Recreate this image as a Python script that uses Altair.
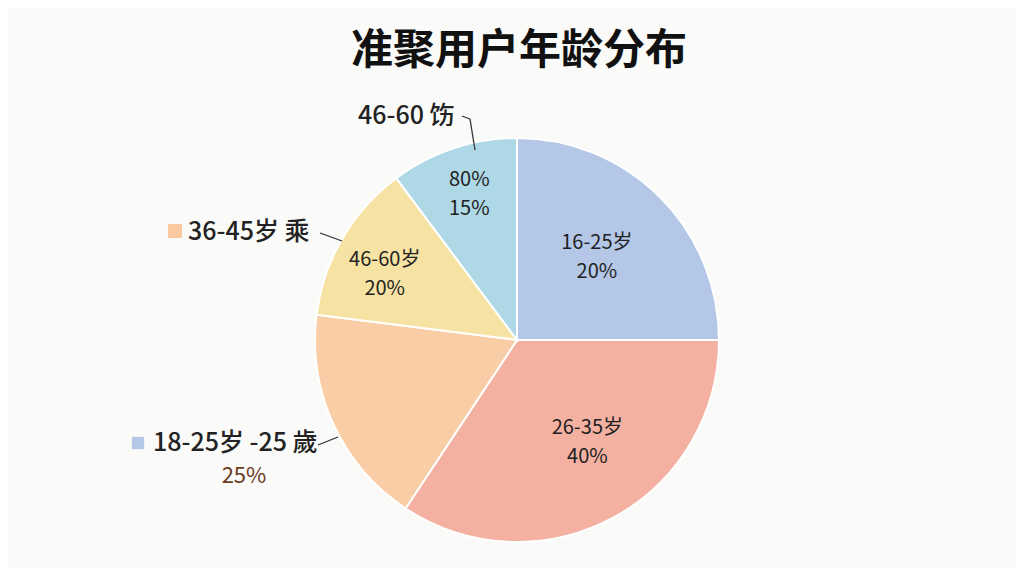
import altair as alt
import pandas as pd

# ---- data ----
groups = ["16-25岁", "26-35岁", "36-45岁", "46-60岁", "60岁以上"]
shares = [25.0, 34.3, 17.7, 12.8, 10.2]
inner_labels = ["16-25岁\n20%", "26-35岁\n40%", "", "46-60岁\n20%", "80%\n15%"]
colors = ["#B4C7E7", "#F4B1A2", "#F9CDA5", "#F6E2A3", "#AED8E6"]

title_text = "准聚用户年龄分布"
callout_top = "46-60 饬"
callout_mid = "36-45岁 乘"
callout_low = "18-25岁 -25 歲"
callout_low_pct = "25%"

FONT = "Noto Sans CJK SC"
CX, CY, R = 509, 332, 202

df = pd.DataFrame({"group": groups, "value": shares, "label": inner_labels,
                   "idx": list(range(len(groups)))})

pie = alt.Chart(df).mark_arc(radius=R, stroke="white", strokeWidth=2).encode(
    theta=alt.Theta("value:Q", stack=True),
    order=alt.Order("idx:Q"),
    color=alt.Color("group:N", scale=alt.Scale(domain=groups, range=colors), legend=None),
    x=alt.value(CX), y=alt.value(CY),
)

# label placement: mid-angle of each slice, with a small per-label nudge (radius px, angle deg)
inner = alt.Chart(df).transform_joinaggregate(
    total="sum(value)"
).transform_window(
    cum="sum(value)", sort=[alt.SortField("idx")], frame=[None, 0]
).transform_calculate(
    ang="(datum.cum - datum.value / 2) / datum.total * 2 * PI + [-1, -6.3, 0, -3.6, 0.3][datum.idx] * PI / 180",
    lr="[115, 124, 140, 148, 154][datum.idx]",
).transform_calculate(
    px=f"{CX} + datum.lr * sin(datum.ang)",
    py=f"{CY} - datum.lr * cos(datum.ang)",
).mark_text(lineBreak="\n", fontSize=20, font=FONT, color="#222222",
            lineHeight=29, baseline="middle", dy=-14).encode(
    text="label:N",
    x=alt.X("px:Q", scale=None),
    y=alt.Y("py:Q", scale=None),
)

one = alt.Data(values=[{"a": 1}])

def txt(s, x, y, size, color="#222222", weight="normal", align="left"):
    return alt.Chart(one).mark_text(
        text=s, fontSize=size, font=FONT, color=color, fontWeight=weight,
        align=align, baseline="middle"
    ).encode(x=alt.value(x - 8), y=alt.value(y - 8))

def seg(x1, y1, x2, y2):
    return alt.Chart(one).mark_rule(color="#333333", strokeWidth=1.3).encode(
        x=alt.value(x1 - 8), y=alt.value(y1 - 8), x2=alt.value(x2 - 8), y2=alt.value(y2 - 8)
    )

def sq(x, y, size, color):
    return alt.Chart(one).mark_square(size=size, color=color, opacity=1).encode(
        x=alt.value(x - 8), y=alt.value(y - 8)
    )

title = txt(title_text, 519, 51, 42, color="#111111", weight="bold", align="center")

layers = [
    pie, inner, title,
    txt(callout_top, 358, 116, 25, weight=500),
    seg(462, 116, 470, 119), seg(470, 119, 475, 150),
    sq(175, 231, 196, "#F9C9A0"),
    txt(callout_mid, 188, 232, 25, weight=500),
    seg(320, 233, 342, 241),
    sq(138, 443, 150, "#B4C7E7"),
    txt(callout_low, 153, 443, 25, weight=500),
    seg(318, 445, 338, 437),
    txt(callout_low_pct, 244, 476, 22, color="#6B3A1F", align="center"),
]

chart = alt.layer(*layers).properties(
    width=1008, height=560,
    autosize=alt.AutoSizeParams(type="none"),
    padding=0,
    background="#FAFAF8",
).configure_view(stroke=None)

chart.save("out.html", embed_options={"renderer": "svg", "actions": False})
